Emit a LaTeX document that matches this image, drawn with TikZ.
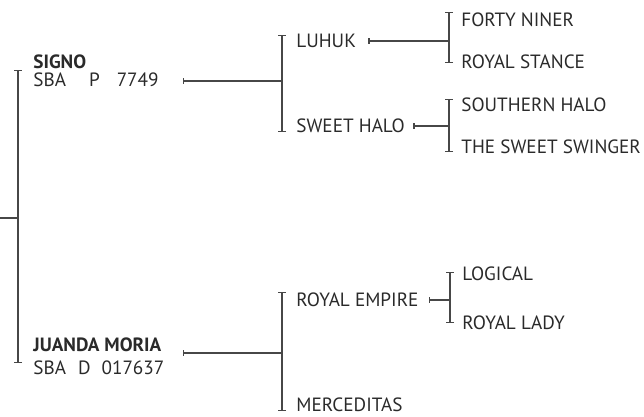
\documentclass[tikz,border=0pt]{standalone}
\usepackage{fontspec}
\setmainfont{PT Sans}
\usetikzlibrary{arrows.meta}
\definecolor{inkgray}{HTML}{2A2A2A}
\definecolor{linegray}{HTML}{474747}
\tikzset{
  horse/.style   = {anchor=west,inner sep=0pt,text=inkgray,font=\fontsize{9.6}{11}\selectfont},
  sire/.style    = {horse,font=\fontsize{9.6}{11}\selectfont\bfseries},
  bracket/.style = {{Bar[width=4pt]}-{Bar[width=4pt]},linegray,line width=0.7pt},
  stub/.style    = {{Bar[width=3pt]}-,linegray,line width=0.7pt},
  plain/.style   = {linegray,line width=0.7pt}
}
% bracket from #2 to #3, fed by a stub starting at #1
\newcommand{\family}[3]{%
  \draw[bracket] (#2) -- (#3);
  \draw[stub] (#1) -- (#1 -| #2);
}

\begin{document}
\begin{tikzpicture}[x=0.5pt,y=-0.5pt]
  \useasboundingbox (0,0) rectangle (644,417);
  % horses
  \node[sire]  (signo)        at (33,62)  {SIGNO};
  \node[horse] (signoreg)     at (33,80)  {SBA\hspace{11.5pt}P\hspace{8.5pt}7749};
  \node[sire]  (juanda)       at (33,345) {JUANDA MORIA};
  \node[horse] (juandareg)    at (33,368) {SBA\hspace{6pt}D\hspace{5.5pt}017637};
  \node[horse] (luhuk)        at (296,41)  {LUHUK};
  \node[horse] (sweethalo)    at (296,126) {SWEET HALO};
  \node[horse] (royalempire)  at (296,300) {ROYAL EMPIRE};
  \node[horse] (merceditas)   at (296,405) {MERCEDITAS};
  \node[horse] (fortyniner)   at (461,20)  {FORTY NINER};
  \node[horse] (royalstance)  at (461,62)  {ROYAL STANCE};
  \node[horse] (southernhalo) at (461,105) {SOUTHERN HALO};
  \node[horse] (sweetswinger) at (461,147) {THE SWEET SWINGER};
  \node[horse] (logical)      at (462,274) {LOGICAL};
  \node[horse] (royallady)    at (462,323) {ROYAL LADY};
  % bracket ends and stubs
  \coordinate (root)  at (0,218);
  \coordinate (rtop)  at (18,70);   \coordinate (rbot)  at (18,363);
  \coordinate (s1)    at (183,81);  \coordinate (b1top) at (282,35);  \coordinate (b1bot) at (282,132);
  \coordinate (s2)    at ([xshift=6pt]luhuk.east);
  \coordinate (b2top) at (449,12);  \coordinate (b2bot) at (449,63);
  \coordinate (s3)    at ([xshift=4pt]sweethalo.east);
  \coordinate (b3top) at (449,99);  \coordinate (b3bot) at (449,152);
  \coordinate (s4)    at (183,353); \coordinate (b4top) at (282,292); \coordinate (b4bot) at (282,411);
  \coordinate (s5)    at ([xshift=5pt]royalempire.east);
  \coordinate (b5top) at (450,272); \coordinate (b5bot) at (450,323);
  % lines
  \draw[bracket] (rtop) -- (rbot);
  \draw[plain] (root) -- (root -| rtop);
  \family{s1}{b1top}{b1bot}
  \family{s2}{b2top}{b2bot}
  \family{s3}{b3top}{b3bot}
  \family{s4}{b4top}{b4bot}
  \family{s5}{b5top}{b5bot}
\end{tikzpicture}
\end{document}
